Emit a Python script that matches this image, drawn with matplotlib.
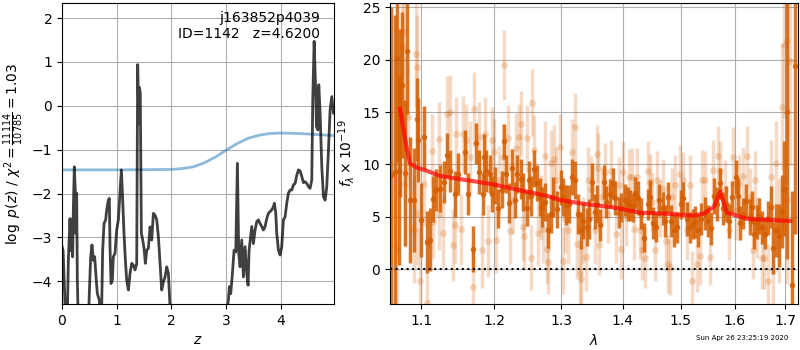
import numpy as np
import matplotlib
matplotlib.use("Agg")
import matplotlib.pyplot as plt
from matplotlib.ticker import FixedLocator, FixedFormatter, NullLocator

# redshift PDF (log p(z)); values below the axis floor run off the bottom
z_grid = [0.0, 0.02, 0.05, 0.075, 0.10, 0.116, 0.146, 0.165, 0.177, 0.195, 0.207, 0.225, 0.244, 0.256,
          0.268, 0.28, 0.299, 0.40, 0.481, 0.499, 0.524, 0.548, 0.573, 0.597, 0.622, 0.646, 0.682, 0.70,
          0.725, 0.743, 0.768, 0.798, 0.817, 0.847, 0.865, 0.877, 0.896, 0.92, 0.938, 0.969, 0.999,
          1.03, 1.06, 1.085, 1.109, 1.133, 1.158, 1.182, 1.213, 1.243, 1.274, 1.304, 1.335, 1.365,
          1.383, 1.395, 1.405, 1.415, 1.43, 1.45, 1.475, 1.499, 1.523, 1.548, 1.578, 1.609, 1.639,
          1.67, 1.70, 1.731, 1.761, 1.792, 1.822, 1.853, 1.883, 1.914, 1.944, 1.975, 2.0, 2.98,
          3.02, 3.04, 3.059, 3.083, 3.114, 3.144, 3.175, 3.205, 3.229, 3.254, 3.284, 3.315, 3.345,
          3.376, 3.40, 3.418, 3.467, 3.497, 3.528, 3.558, 3.589, 3.619, 3.65, 3.68, 3.711, 3.741,
          3.772, 3.802, 3.833, 3.863, 3.881, 3.906, 3.924, 3.955, 3.985, 4.015, 4.046, 4.076, 4.107,
          4.137, 4.168, 4.198, 4.229, 4.259, 4.29, 4.32, 4.35, 4.381, 4.411, 4.442, 4.472, 4.503,
          4.533, 4.564, 4.582, 4.607, 4.631, 4.649, 4.674, 4.692, 4.716, 4.747, 4.777, 4.808, 4.838,
          4.869, 4.899, 4.93, 4.96, 4.99]
log_pz = [-3.2, -3.3, -4.3, -5.2, -4.6, -3.52, -2.57, -3.3, -2.6, -3.44, -2.37, -1.39, -1.99, -2.91,
          -1.99, -3.97, -5.0, -6.0, -5.0, -4.28, -3.44, -3.17, -3.52, -3.44, -3.9, -4.28, -4.43, -5.0,
          -4.6, -3.29, -2.68, -2.6, -2.37, -2.15, -2.11, -3.21, -4.05, -3.97, -3.44, -3.36, -2.83,
          -2.6, -1.99, -1.46, -2.15, -2.91, -3.52, -3.97, -4.2, -3.82, -3.59, -3.63, -3.74, -3.6,
          0.94, 0.2, -0.4, 0.42, 0.3, -2.9, -3.06, -3.25, -3.59, -3.29, -3.25, -2.76, -3.06,
          -2.45, -2.49, -2.6, -2.98, -3.59, -4.2, -4.01, -3.9, -3.67, -3.82, -4.6, -8.0, -8.0,
          -4.6, -4.43, -4.12, -4.28, -3.82, -3.29, -3.33, -1.31, -3.36, -3.67, -3.06, -3.9, -3.21,
          -3.82, -4.09, -3.3, -2.75, -3.14, -2.83, -2.64, -2.6, -2.68, -2.75, -2.83, -2.75, -2.57,
          -2.45, -2.41, -2.37, -2.3, -2.22, -2.45, -2.91, -3.29, -3.4, -3.21, -2.6, -2.53, -2.22,
          -1.99, -1.92, -1.92, -1.8, -1.77, -1.58, -1.46, -1.48, -1.61, -1.75, -1.73, -1.77, -1.84,
          -1.88, -1.69, 0.14, 1.47, 0.52, -0.47, -0.55, 0.48, -0.17, -1.39, -2.07, -2.15, -1.84,
          -1.0, -0.09, 0.21, -0.17, -0.09]

prior_z = [0.0, 1.0, 2.0, 2.2, 2.4, 2.6, 2.8, 3.0, 3.2, 3.4, 3.6, 3.8, 4.0, 4.3, 4.6, 4.97]
prior_logp = [-1.46, -1.46, -1.45, -1.43, -1.39, -1.30, -1.17, -1.01, -0.86, -0.74, -0.67, -0.63,
              -0.62, -0.63, -0.65, -0.68]

# spectrum, 1e-19 erg/s/cm2/A, wavelength in micron
dark_wave = [1.061, 1.066, 1.068, 1.071, 1.072, 1.075, 1.079, 1.081, 1.085, 1.090, 1.094, 1.096,
             1.100, 1.104, 1.107, 1.111, 1.116, 1.120, 1.125, 1.130, 1.134, 1.138, 1.145, 1.150,
             1.159, 1.163, 1.170, 1.175, 1.179, 1.184, 1.186, 1.189,
             1.194, 1.197, 1.201, 1.206, 1.211, 1.214, 1.217, 1.222, 1.226, 1.230, 1.234, 1.239,
             1.243, 1.248, 1.251, 1.254, 1.259, 1.263, 1.268, 1.271, 1.275, 1.280, 1.284, 1.288,
             1.294, 1.300, 1.303, 1.308, 1.313, 1.317, 1.322, 1.327, 1.331, 1.335, 1.341, 1.344,
             1.350, 1.354, 1.358,
             1.362, 1.368, 1.372, 1.379, 1.383, 1.387, 1.393, 1.397, 1.404, 1.408, 1.412, 1.417,
             1.421, 1.426, 1.430, 1.436, 1.442, 1.446, 1.452, 1.457, 1.462, 1.468, 1.472, 1.478,
             1.483, 1.489, 1.494, 1.501, 1.505, 1.511, 1.517, 1.522, 1.527, 1.532, 1.538,
             1.544, 1.550, 1.556, 1.561, 1.567, 1.572, 1.578, 1.584, 1.589, 1.595, 1.602, 1.606,
             1.611, 1.616, 1.622, 1.629, 1.633, 1.638, 1.643, 1.648, 1.654, 1.659, 1.665, 1.671,
             1.676, 1.681, 1.687, 1.693, 1.698, 1.704, 1.714, 1.721]
dark_flux = [9.0, 9.3, 20.2, 9.4, 14.9, 17.6, 9.2, 20.8, 6.6, 6.6, 14.3, 12.3, 4.7, 12.6, 2.6, 2.8,
             6.7, 7.6, 7.7, 8.3, 10.9, 9.4, 7.2, 9.1, 11.2, 7.2, 1.9, 12.0, 9.3, 7.2, 10.7, 9.4,
             9.1, 7.2, 8.0, 5.8, 7.6, 12.2, 9.1, 6.3, 9.7, 6.6, 9.1, 8.6, 7.4, 5.8, 8.5, 7.0,
             9.6, 8.2, 6.9, 5.9, 6.4, 3.7, 5.3, 6.9, 5.7, 7.8, 6.9, 6.1, 6.2, 8.8, 8.5, 5.3,
             3.7, 4.6, 4.0, 4.8, 8.3, 5.5, 6.2,
             4.2, 8.3, 6.4, 7.2, 8.2, 6.8, 5.4, 5.9, 6.6, 6.2, 6.1, 5.9, 7.3, 6.8, 5.3, 3.0,
             6.2, 6.9, 4.4, 4.0, 6.6, 5.8, 4.6, 6.9, 4.6, 3.7, 4.0, 6.2, 6.8, 4.8, 4.0, 4.3,
             4.5, 3.7, 4.8,
             5.3, 4.6, 3.9, 7.0, 6.2, 8.2, 5.8, 6.2, 4.6, 6.9, 8.8, 7.0, 4.4, 5.3, 6.5, 5.0,
             5.9, 3.4, 4.5, 5.1, 4.0, 3.4, 4.9, 5.9, 2.0, 3.7, 3.2, 5.5, 7.7, 15.0, -1.5, 19.4]
dark_err = [16, 15, 10, 9, 8, 7, 7, 6, 6, 5, 4, 4, 3.5, 3, 3, 3,
            2.2, 2.0, 2.2, 2.0, 2.1, 2.0, 2.2, 2.0, 2.1, 2.0, 2.2, 2.0, 2.1, 2.0, 2.2, 2.0,
            1.8, 1.7, 1.8, 1.9, 1.8, 1.7, 1.8, 1.9, 1.8, 1.7, 1.8, 1.9, 1.8, 1.7, 1.8, 1.9,
            1.8, 1.7, 1.8, 1.9, 1.8, 1.7, 1.8, 1.9, 1.8, 1.7, 1.8, 1.9, 1.8, 1.7, 1.8, 1.9,
            1.8, 1.7, 1.8, 1.9, 1.8, 1.7, 1.8,
            1.5, 1.6, 1.5, 1.4, 1.5, 1.6, 1.5, 1.4, 1.5, 1.6, 1.5, 1.4, 1.5, 1.6, 1.5, 1.4,
            1.5, 1.6, 1.5, 1.4, 1.5, 1.6, 1.5, 1.4, 1.5, 1.6, 1.5, 1.4, 1.5, 1.6, 1.5, 1.4,
            1.5, 1.6, 1.5,
            1.6, 1.5, 1.6, 1.7, 1.6, 1.5, 1.6, 1.7, 1.6, 1.5, 1.6, 1.7, 1.6, 1.5, 1.6, 1.7,
            1.6, 1.5, 1.6, 1.7, 1.6, 1.5, 1.6, 2.0, 2.5, 2.5, 3.0, 3.5, 4.5, 14, 9, 16]

light_wave = [1.068, 1.075, 1.077, 1.079, 1.083, 1.090, 1.093, 1.094, 1.095, 1.098, 1.104, 1.107,
              1.114, 1.116, 1.123, 1.124, 1.129, 1.134, 1.138, 1.143, 1.145, 1.147, 1.154, 1.156,
              1.161, 1.166, 1.170, 1.172, 1.179, 1.183, 1.187, 1.192,
              1.197, 1.200, 1.203, 1.207, 1.213, 1.215, 1.220, 1.223, 1.227, 1.232, 1.236, 1.240,
              1.242, 1.244, 1.249, 1.254, 1.256, 1.259, 1.265, 1.269, 1.273, 1.276, 1.278, 1.280,
              1.285, 1.289, 1.293, 1.299, 1.303, 1.306, 1.311, 1.317, 1.322, 1.325, 1.330, 1.332,
              1.335, 1.339, 1.343, 1.348, 1.354, 1.359,
              1.357, 1.360, 1.365, 1.370, 1.376, 1.381, 1.388, 1.393, 1.397, 1.401, 1.406, 1.410,
              1.415, 1.419, 1.423, 1.429, 1.433, 1.438, 1.442, 1.446, 1.450, 1.455, 1.459, 1.464,
              1.469, 1.474, 1.477, 1.481, 1.485, 1.490, 1.499, 1.505, 1.511, 1.517, 1.521, 1.529,
              1.535, 1.539, 1.545, 1.553,
              1.560, 1.569, 1.572, 1.582, 1.590, 1.598, 1.603, 1.609, 1.616, 1.624, 1.630, 1.635,
              1.640, 1.644, 1.653, 1.657, 1.666, 1.671, 1.676, 1.681, 1.688, 1.693, 1.698, 1.703,
              1.704, 1.710]
light_flux = [1.9, 21.3, 22.6, 8.1, 14.5, 3.7, 20.5, 5.4, 19.3, -1.1, 8.1, -3.2, 11.3, 4.5, 12.4,
              5.3, 3.5, 14.8, 15.0, 2.3, 4.2, 12.9, 3.8, 12.9, 12.3, 10.7, -1.7, 15.3, 12.6, 1.8,
              12.9, 2.7,
              12.3, 11.2, 2.8, 8.5, 10.7, 19.5, 12.5, 3.6, 6.6, 11.6, 12.6, 13.9, 4.0, 3.2, 12.5,
              1.1, 15.9, 11.4, 3.5, 5.9, 3.8, 10.8, 1.9, 0.7, 10.1, 10.5, 8.5, 11.7, 0.8, 4.8, 3.7,
              11.2, 13.6, 2.4, -0.4, -0.9, 3.7, 1.2, 8.5, 7.7, 3.7, 9.7,
              11.0, 2.3, 6.9, 9.3, 5.3, 9.4, 3.4, 8.0, 1.9, 9.3, 5.0, 8.8, 8.8, 3.8, 8.8, 3.7, 1.8,
              1.1, 9.4, 8.3, 6.4, 1.8, 8.5, 5.8, 7.7, 2.7, 0.5, 0.2, 6.9, 8.0, 9.1, 8.5, 3.7, 8.0,
              -1.1, 0.5, 1.3, 8.5, 8.5, 1.2,
              9.5, 10.8, 9.4, 7.7, 3.7, 10.7, 5.6, 8.2, 8.9, 10.8, 6.9, 1.8, 8.5, 4.0, 1.1, 1.1,
              -1.1, 8.8, -0.1, 10.1, 3.7, 15.5, 21.4, 6.6, 21.8, 19.9]
light_err = [9, 7, 7, 6, 6, 5, 5, 5, 5, 5, 4, 4,
             3.5, 3.4, 3.6, 3.5, 3.4, 3.6, 3.5, 3.4, 3.6, 3.5, 3.4, 3.6, 3.5, 3.4, 3.6, 3.5, 3.4,
             3.6, 3.5, 3.4,
             3.2, 3.1, 3.2, 3.3, 3.2, 3.3, 3.2, 3.1, 3.2, 3.3, 3.2, 3.1, 3.2, 3.3, 3.2, 3.1, 3.2,
             3.3, 3.2, 3.1, 3.2, 3.3, 3.2, 3.1, 3.2, 3.3, 3.2, 3.1, 3.2, 3.3, 3.2, 3.1, 3.2, 3.3,
             3.2, 3.1, 3.2, 3.3, 3.2, 3.1, 3.2, 3.3,
             2.8, 2.9, 2.8, 2.7, 2.8, 2.9, 2.8, 2.7, 2.8, 2.9, 2.8, 2.7, 2.8, 2.9, 2.8, 2.7, 2.8,
             2.9, 2.8, 2.7, 2.8, 2.9, 2.8, 2.7, 2.8, 2.9, 2.8, 2.7, 2.8, 2.9, 2.8, 2.7, 2.8, 2.9,
             2.8, 2.7, 2.8, 2.9, 2.8, 2.7,
             2.8, 2.9, 2.8, 2.7, 2.8, 2.9, 2.8, 2.7, 2.8, 2.9, 2.8, 2.7, 2.8, 2.9, 3.0, 3.0,
             3.5, 3.5, 4.0, 4.0, 5.0, 6.0, 7.0, 8.0, 9.0, 10.0]

model_wave = [1.0723, 1.0766, 1.0809, 1.0852, 1.094, 1.1071, 1.1249, 1.1614, 1.199, 1.2331,
              1.2782, 1.2986, 1.3408, 1.3842, 1.4291, 1.4755, 1.5233, 1.5416, 1.5602, 1.5665,
              1.5728, 1.5854, 1.5981, 1.624, 1.6634, 1.7105]
model_flux = [15.3, 13.5, 11.6, 10.1, 9.7, 9.4, 8.9, 8.5, 8.1, 7.6, 7.0, 6.6, 6.2, 5.9, 5.4, 5.3,
              5.1, 5.3, 5.9, 6.6, 7.4, 5.4, 5.2, 4.8, 4.7, 4.6]

lam_ticks = [1.1, 1.2, 1.3, 1.4, 1.5, 1.6, 1.7]
spec_color = '#d55e00'

fig = plt.figure(figsize=(8, 3.5), dpi=100)
ax1 = fig.add_axes([0.0775, 0.131, 0.34, 0.86])
ax2 = fig.add_axes([0.4875, 0.131, 0.51, 0.86])

# left: p(z)
ax1.plot(prior_z, prior_logp, color='#1f77b4', alpha=0.5, lw=2)
ax1.plot(z_grid, log_pz, color='k', alpha=0.75, lw=2)
ax1.set_xlim(0, 4.97)
ax1.set_ylim(-4.52, 2.34)
ax1.set_xticks([0, 1, 2, 3, 4])
ax1.set_yticks([-4, -3, -2, -1, 0, 1, 2])
ax1.grid(True)
ax1.set_xlabel(r'$z$')
ax1.set_ylabel(r'$\log\ p(z)$ / $\chi^2=\frac{11114}{10785}=1.03$')
ax1.text(0.95, 0.975, 'j163852p4039\nID=1142   z=4.6200', ha='right', va='top',
         transform=ax1.transAxes, fontsize=10)

# right: spectrum
ax2.errorbar(light_wave, light_flux, yerr=light_err, fmt='o', color=spec_color, alpha=0.22,
             ms=5, elinewidth=2.5, mew=0)
ax2.errorbar(dark_wave, dark_flux, yerr=dark_err, fmt='o', color=spec_color, alpha=0.85,
             ms=4, elinewidth=2.5, mew=0)
ax2.plot(model_wave, model_flux, color='r', alpha=0.7, lw=3, zorder=10)
ax2.axhline(0, color='k', ls=':', lw=1.5, zorder=11)

ax2.set_xscale('log')
ax2.set_xlim(1.0596, 1.7262)
ax2.set_ylim(-3.34, 25.4)
ax2.xaxis.set_major_locator(FixedLocator(lam_ticks))
ax2.xaxis.set_major_formatter(FixedFormatter([str(t) for t in lam_ticks]))
ax2.xaxis.set_minor_locator(NullLocator())
ax2.set_yticks([0, 5, 10, 15, 20, 25])
ax2.grid(True)
ax2.set_xlabel(r'$\lambda$')
ax2.set_ylabel(r'$f_\lambda\times10^{-19}$')

fig.text(0.985, 0.025, 'Sun Apr 26 23:25:19 2020', ha='right', va='bottom', fontsize=5)

fig.savefig('out.png', dpi=100)
